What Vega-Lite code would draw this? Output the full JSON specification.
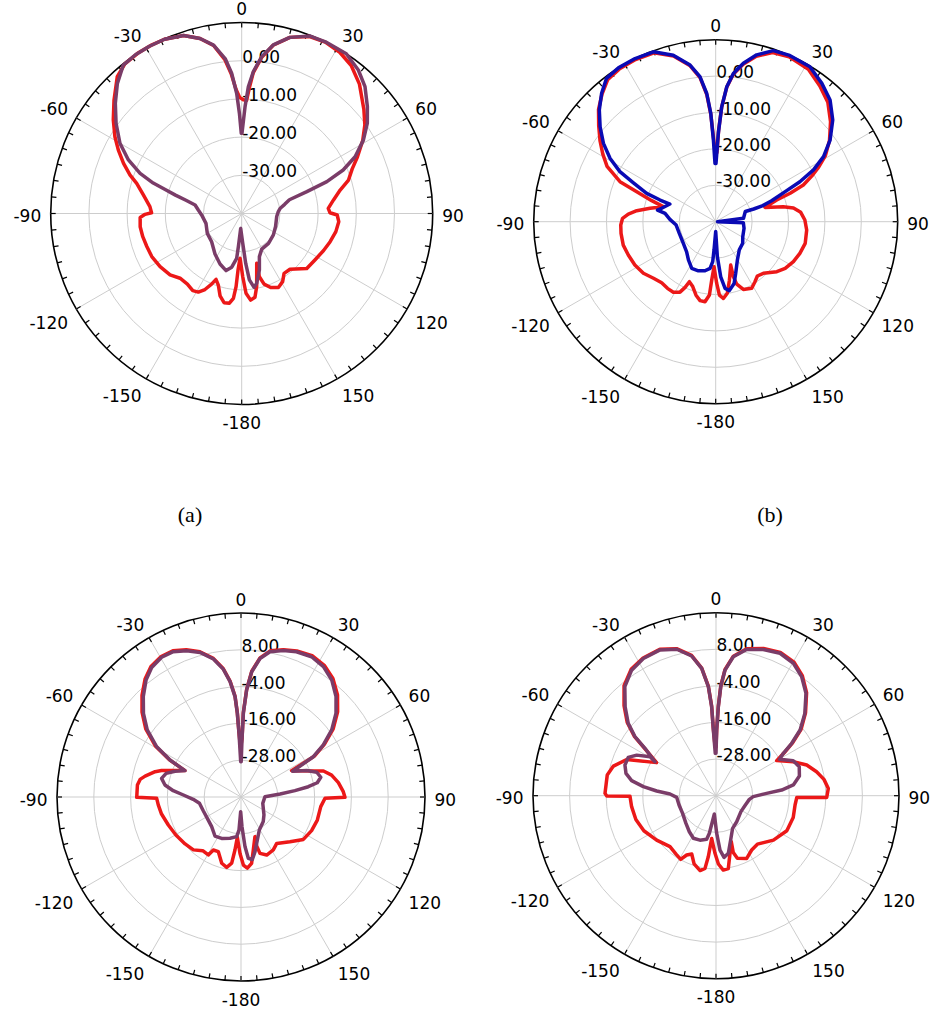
{
  "$schema": "https://vega.github.io/schema/vega-lite/v6.json",
  "padding": 0,
  "background": "white",
  "config": {
    "view": {"stroke": null},
    "text": {"font": "DejaVu Sans", "fontSize": 17, "color": "#000000"},
    "line": {"strokeWidth": 3.5, "strokeJoin": "round", "strokeCap": "round"}
  },
  "datasets": {
    "spokes": [{"deg":0},{"deg":30},{"deg":60},{"deg":90},{"deg":120},{"deg":150},{"deg":180},{"deg":210},{"deg":240},{"deg":270},{"deg":300},{"deg":330}],
    "ticks": [{"deg":0},{"deg":5},{"deg":10},{"deg":15},{"deg":20},{"deg":25},{"deg":30},{"deg":35},{"deg":40},{"deg":45},{"deg":50},{"deg":55},{"deg":60},{"deg":65},{"deg":70},{"deg":75},{"deg":80},{"deg":85},{"deg":90},{"deg":95},{"deg":100},{"deg":105},{"deg":110},{"deg":115},{"deg":120},{"deg":125},{"deg":130},{"deg":135},{"deg":140},{"deg":145},{"deg":150},{"deg":155},{"deg":160},{"deg":165},{"deg":170},{"deg":175},{"deg":180},{"deg":185},{"deg":190},{"deg":195},{"deg":200},{"deg":205},{"deg":210},{"deg":215},{"deg":220},{"deg":225},{"deg":230},{"deg":235},{"deg":240},{"deg":245},{"deg":250},{"deg":255},{"deg":260},{"deg":265},{"deg":270},{"deg":275},{"deg":280},{"deg":285},{"deg":290},{"deg":295},{"deg":300},{"deg":305},{"deg":310},{"deg":315},{"deg":320},{"deg":325},{"deg":330},{"deg":335},{"deg":340},{"deg":345},{"deg":350},{"deg":355}],
    "angleLabels": [{"deg":0,"label":"0"},{"deg":30,"label":"30"},{"deg":60,"label":"60"},{"deg":90,"label":"90"},{"deg":120,"label":"120"},{"deg":150,"label":"150"},{"deg":180,"label":"-180"},{"deg":-150,"label":"-150"},{"deg":-120,"label":"-120"},{"deg":-90,"label":"-90"},{"deg":-60,"label":"-60"},{"deg":-30,"label":"-30"}],
    "patterns": [
      {"panel":"a","trace":"T1","deg":2.5,"dB":-10.3},{"panel":"a","trace":"T1","deg":3.5,"dB":-7.0},{"panel":"a","trace":"T1","deg":4.7,"dB":-3.0},{"panel":"a","trace":"T1","deg":7.3,"dB":1.2},{"panel":"a","trace":"T1","deg":10.6,"dB":4.8},{"panel":"a","trace":"T1","deg":15.3,"dB":7.8},{"panel":"a","trace":"T1","deg":21,"dB":9.6},{"panel":"a","trace":"T1","deg":26,"dB":9.9},{"panel":"a","trace":"T1","deg":31.3,"dB":9.4},{"panel":"a","trace":"T1","deg":36.5,"dB":8.2},{"panel":"a","trace":"T1","deg":42.3,"dB":5.8},{"panel":"a","trace":"T1","deg":49.6,"dB":2.0},{"panel":"a","trace":"T1","deg":54.3,"dB":-0.3},{"panel":"a","trace":"T1","deg":58.9,"dB":-3.0},{"panel":"a","trace":"T1","deg":64,"dB":-6.3},{"panel":"a","trace":"T1","deg":68,"dB":-8.8},{"panel":"a","trace":"T1","deg":72.6,"dB":-10.7},{"panel":"a","trace":"T1","deg":76.6,"dB":-13.5},{"panel":"a","trace":"T1","deg":81.6,"dB":-15.7},{"panel":"a","trace":"T1","deg":86.6,"dB":-17.3},{"panel":"a","trace":"T1","deg":89.5,"dB":-16.9},{"panel":"a","trace":"T1","deg":90.9,"dB":-15.0},{"panel":"a","trace":"T1","deg":94.8,"dB":-14.5},{"panel":"a","trace":"T1","deg":100.9,"dB":-14.9},{"panel":"a","trace":"T1","deg":107.7,"dB":-15.7},{"panel":"a","trace":"T1","deg":114.5,"dB":-16.5},{"panel":"a","trace":"T1","deg":122.4,"dB":-17.3},{"panel":"a","trace":"T1","deg":130.2,"dB":-17.7},{"panel":"a","trace":"T1","deg":139.1,"dB":-20.7},{"panel":"a","trace":"T1","deg":144.7,"dB":-20.8},{"panel":"a","trace":"T1","deg":149,"dB":-19.2},{"panel":"a","trace":"T1","deg":153.6,"dB":-18.4},{"panel":"a","trace":"T1","deg":158.6,"dB":-19.2},{"panel":"a","trace":"T1","deg":162.4,"dB":-20.6},{"panel":"a","trace":"T1","deg":164.4,"dB":-22.8},{"panel":"a","trace":"T1","deg":163.2,"dB":-26.4},{"panel":"a","trace":"T1","deg":168.4,"dB":-20.5},{"panel":"a","trace":"T1","deg":171,"dB":-17.8},{"panel":"a","trace":"T1","deg":174.1,"dB":-17.2},{"panel":"a","trace":"T1","deg":176.9,"dB":-19.1},{"panel":"a","trace":"T1","deg":179.1,"dB":-23.5},{"panel":"a","trace":"T1","deg":-177.9,"dB":-28.3},{"panel":"a","trace":"T1","deg":-176.3,"dB":-25.2},{"panel":"a","trace":"T1","deg":-175.6,"dB":-20.8},{"panel":"a","trace":"T1","deg":-174.4,"dB":-17.7},{"panel":"a","trace":"T1","deg":-172.2,"dB":-16.3},{"panel":"a","trace":"T1","deg":-168.8,"dB":-16.2},{"panel":"a","trace":"T1","deg":-165.3,"dB":-17.7},{"panel":"a","trace":"T1","deg":-161.9,"dB":-20.3},{"panel":"a","trace":"T1","deg":-158.7,"dB":-21.5},{"panel":"a","trace":"T1","deg":-156.9,"dB":-19.9},{"panel":"a","trace":"T1","deg":-154.2,"dB":-17.9},{"panel":"a","trace":"T1","deg":-151.1,"dB":-16.5},{"panel":"a","trace":"T1","deg":-147.6,"dB":-16.1},{"panel":"a","trace":"T1","deg":-142.4,"dB":-16.7},{"panel":"a","trace":"T1","deg":-136.4,"dB":-16.6},{"panel":"a","trace":"T1","deg":-130.6,"dB":-15.3},{"panel":"a","trace":"T1","deg":-123.1,"dB":-14.5},{"panel":"a","trace":"T1","deg":-115.6,"dB":-13.9},{"panel":"a","trace":"T1","deg":-109.2,"dB":-13.7},{"panel":"a","trace":"T1","deg":-103.2,"dB":-13.4},{"panel":"a","trace":"T1","deg":-97.4,"dB":-13.2},{"panel":"a","trace":"T1","deg":-92.2,"dB":-13.4},{"panel":"a","trace":"T1","deg":-90.5,"dB":-14.7},{"panel":"a","trace":"T1","deg":-89.5,"dB":-16.4},{"panel":"a","trace":"T1","deg":-85.7,"dB":-15.9},{"panel":"a","trace":"T1","deg":-79.3,"dB":-13.8},{"panel":"a","trace":"T1","deg":-74,"dB":-11.4},{"panel":"a","trace":"T1","deg":-71,"dB":-9.1},{"panel":"a","trace":"T1","deg":-67,"dB":-6.4},{"panel":"a","trace":"T1","deg":-62.8,"dB":-3.7},{"panel":"a","trace":"T1","deg":-58.8,"dB":-1.2},{"panel":"a","trace":"T1","deg":-53.9,"dB":1.6},{"panel":"a","trace":"T1","deg":-48.4,"dB":4.7},{"panel":"a","trace":"T1","deg":-42.3,"dB":8.4},{"panel":"a","trace":"T1","deg":-38,"dB":9.7},{"panel":"a","trace":"T1","deg":-33,"dB":10},{"panel":"a","trace":"T1","deg":-28,"dB":10},{"panel":"a","trace":"T1","deg":-23.9,"dB":9.9},{"panel":"a","trace":"T1","deg":-18.1,"dB":9.0},{"panel":"a","trace":"T1","deg":-13.4,"dB":7.1},{"panel":"a","trace":"T1","deg":-9.5,"dB":4.6},{"panel":"a","trace":"T1","deg":-6.3,"dB":0.6},{"panel":"a","trace":"T1","deg":-4.3,"dB":-3.3},{"panel":"a","trace":"T1","deg":-2.6,"dB":-7.5},{"panel":"a","trace":"T1","deg":-1.0,"dB":-9.6},{"panel":"a","trace":"T1","deg":0.8,"dB":-10.2},{"panel":"a","trace":"T1","deg":2.5,"dB":-10.3},

      {"panel":"a","trace":"T2","deg":0.2,"dB":-19.0},{"panel":"a","trace":"T2","deg":1.8,"dB":-12.0},{"panel":"a","trace":"T2","deg":3.0,"dB":-6.8},{"panel":"a","trace":"T2","deg":4.7,"dB":-2.7},{"panel":"a","trace":"T2","deg":7.3,"dB":1.4},{"panel":"a","trace":"T2","deg":10.6,"dB":4.9},{"panel":"a","trace":"T2","deg":15.3,"dB":7.8},{"panel":"a","trace":"T2","deg":21.1,"dB":9.8},{"panel":"a","trace":"T2","deg":26,"dB":10},{"panel":"a","trace":"T2","deg":33.2,"dB":10},{"panel":"a","trace":"T2","deg":39.1,"dB":8.4},{"panel":"a","trace":"T2","deg":44.2,"dB":6.3},{"panel":"a","trace":"T2","deg":49.6,"dB":3.2},{"panel":"a","trace":"T2","deg":54.3,"dB":0.5},{"panel":"a","trace":"T2","deg":58.9,"dB":-2.8},{"panel":"a","trace":"T2","deg":63.4,"dB":-6.8},{"panel":"a","trace":"T2","deg":66.8,"dB":-11.1},{"panel":"a","trace":"T2","deg":69.5,"dB":-16.2},{"panel":"a","trace":"T2","deg":71.4,"dB":-22.0},{"panel":"a","trace":"T2","deg":73.9,"dB":-27.0},{"panel":"a","trace":"T2","deg":78,"dB":-28.5},{"panel":"a","trace":"T2","deg":82.2,"dB":-29.8},{"panel":"a","trace":"T2","deg":87,"dB":-30.4},{"panel":"a","trace":"T2","deg":95,"dB":-30.8},{"panel":"a","trace":"T2","deg":111,"dB":-30.5},{"panel":"a","trace":"T2","deg":124,"dB":-30.0},{"panel":"a","trace":"T2","deg":138,"dB":-29.5},{"panel":"a","trace":"T2","deg":150.6,"dB":-29.3},{"panel":"a","trace":"T2","deg":157.7,"dB":-27.8},{"panel":"a","trace":"T2","deg":162.6,"dB":-24.5},{"panel":"a","trace":"T2","deg":167.9,"dB":-21.3},{"panel":"a","trace":"T2","deg":170.5,"dB":-20.4},{"panel":"a","trace":"T2","deg":173.4,"dB":-22.5},{"panel":"a","trace":"T2","deg":175.4,"dB":-26.9},{"panel":"a","trace":"T2","deg":178,"dB":-32.2},{"panel":"a","trace":"T2","deg":-176.1,"dB":-36.1},{"panel":"a","trace":"T2","deg":-174.3,"dB":-31.3},{"panel":"a","trace":"T2","deg":-173.6,"dB":-28.2},{"panel":"a","trace":"T2","deg":-169.5,"dB":-25.7},{"panel":"a","trace":"T2","deg":-164.7,"dB":-24.5},{"panel":"a","trace":"T2","deg":-156.8,"dB":-25.6},{"panel":"a","trace":"T2","deg":-146.6,"dB":-27.3},{"panel":"a","trace":"T2","deg":-133.2,"dB":-29.2},{"panel":"a","trace":"T2","deg":-120,"dB":-29.6},{"panel":"a","trace":"T2","deg":-105.4,"dB":-30.3},{"panel":"a","trace":"T2","deg":-92,"dB":-29.5},{"panel":"a","trace":"T2","deg":-85.4,"dB":-28.6},{"panel":"a","trace":"T2","deg":-79.7,"dB":-27.6},{"panel":"a","trace":"T2","deg":-76.7,"dB":-25.0},{"panel":"a","trace":"T2","deg":-74.5,"dB":-22.0},{"panel":"a","trace":"T2","deg":-72.6,"dB":-19.0},{"panel":"a","trace":"T2","deg":-71,"dB":-15.5},{"panel":"a","trace":"T2","deg":-68.4,"dB":-11.4},{"panel":"a","trace":"T2","deg":-64.7,"dB":-7.2},{"panel":"a","trace":"T2","deg":-60,"dB":-3.2},{"panel":"a","trace":"T2","deg":-54.3,"dB":0.5},{"panel":"a","trace":"T2","deg":-48.9,"dB":3.9},{"panel":"a","trace":"T2","deg":-43.7,"dB":7.1},{"panel":"a","trace":"T2","deg":-38.6,"dB":9.7},{"panel":"a","trace":"T2","deg":-33.8,"dB":10},{"panel":"a","trace":"T2","deg":-28.9,"dB":10},{"panel":"a","trace":"T2","deg":-23.9,"dB":9.9},{"panel":"a","trace":"T2","deg":-18.1,"dB":9.0},{"panel":"a","trace":"T2","deg":-13.4,"dB":7.1},{"panel":"a","trace":"T2","deg":-9.5,"dB":4.7},{"panel":"a","trace":"T2","deg":-6.1,"dB":0.8},{"panel":"a","trace":"T2","deg":-4.1,"dB":-3.2},{"panel":"a","trace":"T2","deg":-2.4,"dB":-8.5},{"panel":"a","trace":"T2","deg":-1.3,"dB":-13.8},{"panel":"a","trace":"T2","deg":-0.3,"dB":-19.0},{"panel":"a","trace":"T2","deg":0.2,"dB":-19.0},

      {"panel":"b","trace":"T1","deg":1.0,"dB":-21},{"panel":"b","trace":"T1","deg":1.8,"dB":-15},{"panel":"b","trace":"T1","deg":3.0,"dB":-8.4},{"panel":"b","trace":"T1","deg":4.7,"dB":-2.9},{"panel":"b","trace":"T1","deg":6.8,"dB":0.8},{"panel":"b","trace":"T1","deg":9.9,"dB":3.9},{"panel":"b","trace":"T1","deg":13.8,"dB":6.8},{"panel":"b","trace":"T1","deg":18.6,"dB":9.0},{"panel":"b","trace":"T1","deg":24,"dB":9.6},{"panel":"b","trace":"T1","deg":31.3,"dB":9.0},{"panel":"b","trace":"T1","deg":37.5,"dB":7.0},{"panel":"b","trace":"T1","deg":43.2,"dB":5.0},{"panel":"b","trace":"T1","deg":49,"dB":1.8},{"panel":"b","trace":"T1","deg":54.5,"dB":-1.6},{"panel":"b","trace":"T1","deg":58.9,"dB":-4.8},{"panel":"b","trace":"T1","deg":62.1,"dB":-8.0},{"panel":"b","trace":"T1","deg":64.6,"dB":-10.8},{"panel":"b","trace":"T1","deg":67.3,"dB":-13.9},{"panel":"b","trace":"T1","deg":69.1,"dB":-18.1},{"panel":"b","trace":"T1","deg":70.4,"dB":-22.2},{"panel":"b","trace":"T1","deg":73.8,"dB":-25.9},{"panel":"b","trace":"T1","deg":77.5,"dB":-21.0},{"panel":"b","trace":"T1","deg":80,"dB":-18.3},{"panel":"b","trace":"T1","deg":83.7,"dB":-16.5},{"panel":"b","trace":"T1","deg":88.9,"dB":-15.5},{"panel":"b","trace":"T1","deg":95.2,"dB":-14.9},{"panel":"b","trace":"T1","deg":103.6,"dB":-14.7},{"panel":"b","trace":"T1","deg":110.6,"dB":-15.3},{"panel":"b","trace":"T1","deg":117.2,"dB":-16.0},{"panel":"b","trace":"T1","deg":123.9,"dB":-17.0},{"panel":"b","trace":"T1","deg":129.3,"dB":-18.3},{"panel":"b","trace":"T1","deg":137.3,"dB":-20.7},{"panel":"b","trace":"T1","deg":142.5,"dB":-21.2},{"panel":"b","trace":"T1","deg":146.8,"dB":-20.3},{"panel":"b","trace":"T1","deg":151.6,"dB":-19.2},{"panel":"b","trace":"T1","deg":157.8,"dB":-19.9},{"panel":"b","trace":"T1","deg":161.4,"dB":-21.9},{"panel":"b","trace":"T1","deg":162.2,"dB":-24.1},{"panel":"b","trace":"T1","deg":160.9,"dB":-27.4},{"panel":"b","trace":"T1","deg":166.8,"dB":-23.5},{"panel":"b","trace":"T1","deg":170.8,"dB":-20.1},{"panel":"b","trace":"T1","deg":174.3,"dB":-18.8},{"panel":"b","trace":"T1","deg":177.1,"dB":-19.8},{"panel":"b","trace":"T1","deg":179.1,"dB":-23.1},{"panel":"b","trace":"T1","deg":-177.9,"dB":-27.6},{"panel":"b","trace":"T1","deg":-176.1,"dB":-23.9},{"panel":"b","trace":"T1","deg":-175.1,"dB":-19.8},{"panel":"b","trace":"T1","deg":-172.4,"dB":-17.8},{"panel":"b","trace":"T1","deg":-168.8,"dB":-17.9},{"panel":"b","trace":"T1","deg":-165,"dB":-19.1},{"panel":"b","trace":"T1","deg":-160.5,"dB":-21.1},{"panel":"b","trace":"T1","deg":-156.3,"dB":-22.0},{"panel":"b","trace":"T1","deg":-155,"dB":-20.1},{"panel":"b","trace":"T1","deg":-153.1,"dB":-18.3},{"panel":"b","trace":"T1","deg":-149,"dB":-17.4},{"panel":"b","trace":"T1","deg":-144.1,"dB":-17.4},{"panel":"b","trace":"T1","deg":-138.5,"dB":-17.6},{"panel":"b","trace":"T1","deg":-132.3,"dB":-16.9},{"panel":"b","trace":"T1","deg":-125.5,"dB":-15.6},{"panel":"b","trace":"T1","deg":-118.2,"dB":-14.8},{"panel":"b","trace":"T1","deg":-110.9,"dB":-14.3},{"panel":"b","trace":"T1","deg":-104.2,"dB":-13.8},{"panel":"b","trace":"T1","deg":-97,"dB":-13.8},{"panel":"b","trace":"T1","deg":-92,"dB":-13.9},{"panel":"b","trace":"T1","deg":-87.9,"dB":-14.4},{"panel":"b","trace":"T1","deg":-85,"dB":-15.9},{"panel":"b","trace":"T1","deg":-82.1,"dB":-18.1},{"panel":"b","trace":"T1","deg":-78.5,"dB":-21.6},{"panel":"b","trace":"T1","deg":-74,"dB":-25.0},{"panel":"b","trace":"T1","deg":-71.8,"dB":-21.5},{"panel":"b","trace":"T1","deg":-69.2,"dB":-16.8},{"panel":"b","trace":"T1","deg":-67.3,"dB":-11.5},{"panel":"b","trace":"T1","deg":-63,"dB":-6.5},{"panel":"b","trace":"T1","deg":-59,"dB":-3.8},{"panel":"b","trace":"T1","deg":-55,"dB":-1.2},{"panel":"b","trace":"T1","deg":-50.6,"dB":1.6},{"panel":"b","trace":"T1","deg":-46.2,"dB":4.6},{"panel":"b","trace":"T1","deg":-41.6,"dB":7.0},{"panel":"b","trace":"T1","deg":-37.3,"dB":9.0},{"panel":"b","trace":"T1","deg":-32.3,"dB":9.6},{"panel":"b","trace":"T1","deg":-26.3,"dB":9.7},{"panel":"b","trace":"T1","deg":-20.1,"dB":9.4},{"panel":"b","trace":"T1","deg":-14.3,"dB":7.0},{"panel":"b","trace":"T1","deg":-9.3,"dB":3.4},{"panel":"b","trace":"T1","deg":-6.2,"dB":-0.2},{"panel":"b","trace":"T1","deg":-4.0,"dB":-5.0},{"panel":"b","trace":"T1","deg":-2.6,"dB":-10.5},{"panel":"b","trace":"T1","deg":-1.6,"dB":-16.5},{"panel":"b","trace":"T1","deg":-0.5,"dB":-21},{"panel":"b","trace":"T1","deg":1.0,"dB":-21},

      {"panel":"b","trace":"T3","deg":0.3,"dB":-24.0},{"panel":"b","trace":"T3","deg":1.7,"dB":-15.7},{"panel":"b","trace":"T3","deg":3.0,"dB":-8.4},{"panel":"b","trace":"T3","deg":4.7,"dB":-2.8},{"panel":"b","trace":"T3","deg":6.8,"dB":1.0},{"panel":"b","trace":"T3","deg":9.9,"dB":4.2},{"panel":"b","trace":"T3","deg":13.8,"dB":7.2},{"panel":"b","trace":"T3","deg":18.6,"dB":9.6},{"panel":"b","trace":"T3","deg":24,"dB":10},{"panel":"b","trace":"T3","deg":31.3,"dB":9.8},{"panel":"b","trace":"T3","deg":37.5,"dB":7.9},{"panel":"b","trace":"T3","deg":43.2,"dB":5.9},{"panel":"b","trace":"T3","deg":49,"dB":2.6},{"panel":"b","trace":"T3","deg":54.5,"dB":-1.4},{"panel":"b","trace":"T3","deg":58.9,"dB":-5.4},{"panel":"b","trace":"T3","deg":62.1,"dB":-9.6},{"panel":"b","trace":"T3","deg":64.6,"dB":-14.4},{"panel":"b","trace":"T3","deg":66.6,"dB":-19.2},{"panel":"b","trace":"T3","deg":69.5,"dB":-23.6},{"panel":"b","trace":"T3","deg":71.2,"dB":-26.5},{"panel":"b","trace":"T3","deg":71.5,"dB":-29},{"panel":"b","trace":"T3","deg":71,"dB":-31.4},{"panel":"b","trace":"T3","deg":83,"dB":-32.3},{"panel":"b","trace":"T3","deg":90,"dB":-39.5},{"panel":"b","trace":"T3","deg":92,"dB":-32.4},{"panel":"b","trace":"T3","deg":103.2,"dB":-32.0},{"panel":"b","trace":"T3","deg":119,"dB":-31.5},{"panel":"b","trace":"T3","deg":128.7,"dB":-30.5},{"panel":"b","trace":"T3","deg":140.1,"dB":-29.9},{"panel":"b","trace":"T3","deg":150.5,"dB":-27.9},{"panel":"b","trace":"T3","deg":158.8,"dB":-24.8},{"panel":"b","trace":"T3","deg":163.4,"dB":-22.3},{"panel":"b","trace":"T3","deg":168.8,"dB":-20.7},{"panel":"b","trace":"T3","deg":172,"dB":-21.5},{"panel":"b","trace":"T3","deg":174.8,"dB":-24.8},{"panel":"b","trace":"T3","deg":177.3,"dB":-30.4},{"panel":"b","trace":"T3","deg":180,"dB":-37.3},{"panel":"b","trace":"T3","deg":-176.6,"dB":-32.2},{"panel":"b","trace":"T3","deg":-175.7,"dB":-29.0},{"panel":"b","trace":"T3","deg":-173.1,"dB":-27.1},{"panel":"b","trace":"T3","deg":-167.7,"dB":-26.2},{"panel":"b","trace":"T3","deg":-160.5,"dB":-25.7},{"panel":"b","trace":"T3","deg":-152.8,"dB":-25.6},{"panel":"b","trace":"T3","deg":-144.5,"dB":-27.1},{"panel":"b","trace":"T3","deg":-136,"dB":-28.5},{"panel":"b","trace":"T3","deg":-123.8,"dB":-29.3},{"panel":"b","trace":"T3","deg":-107.8,"dB":-29.5},{"panel":"b","trace":"T3","deg":-94.8,"dB":-29.1},{"panel":"b","trace":"T3","deg":-87.1,"dB":-27.4},{"panel":"b","trace":"T3","deg":-80.7,"dB":-25.9},{"panel":"b","trace":"T3","deg":-78.7,"dB":-23.7},{"panel":"b","trace":"T3","deg":-76.1,"dB":-24.7},{"panel":"b","trace":"T3","deg":-68.9,"dB":-26.5},{"panel":"b","trace":"T3","deg":-68.7,"dB":-23.6},{"panel":"b","trace":"T3","deg":-67.7,"dB":-19.5},{"panel":"b","trace":"T3","deg":-64.7,"dB":-15.0},{"panel":"b","trace":"T3","deg":-62.4,"dB":-10.3},{"panel":"b","trace":"T3","deg":-59.1,"dB":-6.2},{"panel":"b","trace":"T3","deg":-55.1,"dB":-2.4},{"panel":"b","trace":"T3","deg":-50.6,"dB":1.1},{"panel":"b","trace":"T3","deg":-46.2,"dB":4.3},{"panel":"b","trace":"T3","deg":-41.6,"dB":7.2},{"panel":"b","trace":"T3","deg":-37.3,"dB":9.5},{"panel":"b","trace":"T3","deg":-32.3,"dB":10},{"panel":"b","trace":"T3","deg":-26.3,"dB":10},{"panel":"b","trace":"T3","deg":-20.1,"dB":9.7},{"panel":"b","trace":"T3","deg":-14.3,"dB":7.2},{"panel":"b","trace":"T3","deg":-9.3,"dB":3.6},{"panel":"b","trace":"T3","deg":-6.2,"dB":0.1},{"panel":"b","trace":"T3","deg":-4.0,"dB":-4.7},{"panel":"b","trace":"T3","deg":-2.6,"dB":-10.2},{"panel":"b","trace":"T3","deg":-1.6,"dB":-17.6},{"panel":"b","trace":"T3","deg":-0.7,"dB":-24.0},{"panel":"b","trace":"T3","deg":0.3,"dB":-24.0},

      {"panel":"c","trace":"T1","deg":1,"dB":-21},{"panel":"c","trace":"T1","deg":1.6,"dB":-12.4},{"panel":"c","trace":"T1","deg":3,"dB":-4.9},{"panel":"c","trace":"T1","deg":4.9,"dB":1.2},{"panel":"c","trace":"T1","deg":7.8,"dB":5.8},{"panel":"c","trace":"T1","deg":11.3,"dB":8.6},{"panel":"c","trace":"T1","deg":16.1,"dB":10.0},{"panel":"c","trace":"T1","deg":20.9,"dB":11.0},{"panel":"c","trace":"T1","deg":26.7,"dB":11.6},{"panel":"c","trace":"T1","deg":32.3,"dB":10.8},{"panel":"c","trace":"T1","deg":37.8,"dB":8.9},{"panel":"c","trace":"T1","deg":43.4,"dB":5.8},{"panel":"c","trace":"T1","deg":48.6,"dB":2.0},{"panel":"c","trace":"T1","deg":53.5,"dB":-2.6},{"panel":"c","trace":"T1","deg":57.7,"dB":-7.8},{"panel":"c","trace":"T1","deg":60.9,"dB":-12.6},{"panel":"c","trace":"T1","deg":62.5,"dB":-21.4},{"panel":"c","trace":"T1","deg":72.5,"dB":-11.8},{"panel":"c","trace":"T1","deg":76.4,"dB":-9.6},{"panel":"c","trace":"T1","deg":81.6,"dB":-7.9},{"panel":"c","trace":"T1","deg":87,"dB":-6.6},{"panel":"c","trace":"T1","deg":90.2,"dB":-6.1},{"panel":"c","trace":"T1","deg":90.9,"dB":-12.6},{"panel":"c","trace":"T1","deg":96.9,"dB":-13.8},{"panel":"c","trace":"T1","deg":106.8,"dB":-14.0},{"panel":"c","trace":"T1","deg":115.5,"dB":-14.5},{"panel":"c","trace":"T1","deg":124.2,"dB":-15.4},{"panel":"c","trace":"T1","deg":132.4,"dB":-18.4},{"panel":"c","trace":"T1","deg":142.4,"dB":-20.9},{"panel":"c","trace":"T1","deg":148.6,"dB":-19.8},{"panel":"c","trace":"T1","deg":156.1,"dB":-19.3},{"panel":"c","trace":"T1","deg":161.4,"dB":-20.6},{"panel":"c","trace":"T1","deg":162.3,"dB":-23.2},{"panel":"c","trace":"T1","deg":160.6,"dB":-26.3},{"panel":"c","trace":"T1","deg":166.9,"dB":-22.3},{"panel":"c","trace":"T1","deg":170.9,"dB":-18.1},{"panel":"c","trace":"T1","deg":174.9,"dB":-16.7},{"panel":"c","trace":"T1","deg":178,"dB":-17.8},{"panel":"c","trace":"T1","deg":-179,"dB":-21.6},{"panel":"c","trace":"T1","deg":-174.8,"dB":-26.8},{"panel":"c","trace":"T1","deg":-173.5,"dB":-22.6},{"panel":"c","trace":"T1","deg":-172,"dB":-18.2},{"panel":"c","trace":"T1","deg":-168.5,"dB":-16.6},{"panel":"c","trace":"T1","deg":-163.8,"dB":-17.5},{"panel":"c","trace":"T1","deg":-157.5,"dB":-20.7},{"panel":"c","trace":"T1","deg":-152.4,"dB":-20.5},{"panel":"c","trace":"T1","deg":-150.6,"dB":-18.3},{"panel":"c","trace":"T1","deg":-144.5,"dB":-18.5},{"panel":"c","trace":"T1","deg":-138,"dB":-16.8},{"panel":"c","trace":"T1","deg":-130,"dB":-16.2},{"panel":"c","trace":"T1","deg":-120.3,"dB":-15.4},{"panel":"c","trace":"T1","deg":-111.1,"dB":-14.6},{"panel":"c","trace":"T1","deg":-102.1,"dB":-13.5},{"panel":"c","trace":"T1","deg":-95.5,"dB":-12.9},{"panel":"c","trace":"T1","deg":-90.9,"dB":-12.5},{"panel":"c","trace":"T1","deg":-90.2,"dB":-6.0},{"panel":"c","trace":"T1","deg":-83.4,"dB":-6.0},{"panel":"c","trace":"T1","deg":-80.1,"dB":-6.6},{"panel":"c","trace":"T1","deg":-77.7,"dB":-8.0},{"panel":"c","trace":"T1","deg":-73.6,"dB":-10.8},{"panel":"c","trace":"T1","deg":-71.6,"dB":-12.7},{"panel":"c","trace":"T1","deg":-64.8,"dB":-19.8},{"panel":"c","trace":"T1","deg":-62.5,"dB":-13.6},{"panel":"c","trace":"T1","deg":-59.2,"dB":-7.5},{"panel":"c","trace":"T1","deg":-54.4,"dB":-1.8},{"panel":"c","trace":"T1","deg":-49.4,"dB":2.5},{"panel":"c","trace":"T1","deg":-44.2,"dB":6.3},{"panel":"c","trace":"T1","deg":-39.1,"dB":9.6},{"panel":"c","trace":"T1","deg":-34.6,"dB":11.7},{"panel":"c","trace":"T1","deg":-29.6,"dB":12.7},{"panel":"c","trace":"T1","deg":-25,"dB":12.6},{"panel":"c","trace":"T1","deg":-20.4,"dB":11.2},{"panel":"c","trace":"T1","deg":-15.8,"dB":9.2},{"panel":"c","trace":"T1","deg":-11.3,"dB":6.1},{"panel":"c","trace":"T1","deg":-7.9,"dB":2.3},{"panel":"c","trace":"T1","deg":-5.4,"dB":-2.0},{"panel":"c","trace":"T1","deg":-3.4,"dB":-7.0},{"panel":"c","trace":"T1","deg":-2.5,"dB":-12.5},{"panel":"c","trace":"T1","deg":-1.8,"dB":-19},{"panel":"c","trace":"T1","deg":-0.5,"dB":-24},{"panel":"c","trace":"T1","deg":1,"dB":-21},

      {"panel":"c","trace":"T2","deg":0.3,"dB":-28.5},{"panel":"c","trace":"T2","deg":1,"dB":-21.4},{"panel":"c","trace":"T2","deg":1.6,"dB":-12.7},{"panel":"c","trace":"T2","deg":3,"dB":-5.1},{"panel":"c","trace":"T2","deg":4.9,"dB":1.0},{"panel":"c","trace":"T2","deg":7.8,"dB":5.6},{"panel":"c","trace":"T2","deg":11.3,"dB":8.3},{"panel":"c","trace":"T2","deg":16.1,"dB":9.7},{"panel":"c","trace":"T2","deg":20.9,"dB":10.7},{"panel":"c","trace":"T2","deg":26.7,"dB":11.2},{"panel":"c","trace":"T2","deg":32.3,"dB":10.3},{"panel":"c","trace":"T2","deg":37.8,"dB":8.3},{"panel":"c","trace":"T2","deg":43.4,"dB":5.1},{"panel":"c","trace":"T2","deg":48.6,"dB":1.3},{"panel":"c","trace":"T2","deg":53.5,"dB":-3.2},{"panel":"c","trace":"T2","deg":57.7,"dB":-8.3},{"panel":"c","trace":"T2","deg":60.9,"dB":-13.0},{"panel":"c","trace":"T2","deg":63.5,"dB":-21.2},{"panel":"c","trace":"T2","deg":68.1,"dB":-16.9},{"panel":"c","trace":"T2","deg":71.9,"dB":-14.0},{"panel":"c","trace":"T2","deg":76.1,"dB":-13.2},{"panel":"c","trace":"T2","deg":79.4,"dB":-14.7},{"panel":"c","trace":"T2","deg":81.3,"dB":-17.8},{"panel":"c","trace":"T2","deg":83.3,"dB":-22.3},{"panel":"c","trace":"T2","deg":85.6,"dB":-27.2},{"panel":"c","trace":"T2","deg":89.2,"dB":-32.2},{"panel":"c","trace":"T2","deg":106.3,"dB":-32.6},{"panel":"c","trace":"T2","deg":128,"dB":-30.5},{"panel":"c","trace":"T2","deg":137.8,"dB":-29.2},{"panel":"c","trace":"T2","deg":150.9,"dB":-27.7},{"panel":"c","trace":"T2","deg":159.2,"dB":-25.0},{"panel":"c","trace":"T2","deg":165.6,"dB":-21.6},{"panel":"c","trace":"T2","deg":169.7,"dB":-19.3},{"panel":"c","trace":"T2","deg":173.2,"dB":-19.9},{"panel":"c","trace":"T2","deg":175.4,"dB":-23.8},{"panel":"c","trace":"T2","deg":178.1,"dB":-30.3},{"panel":"c","trace":"T2","deg":-178.7,"dB":-35.2},{"panel":"c","trace":"T2","deg":-176.5,"dB":-29.2},{"panel":"c","trace":"T2","deg":-173.8,"dB":-27.0},{"panel":"c","trace":"T2","deg":-165.1,"dB":-26.1},{"panel":"c","trace":"T2","deg":-154.9,"dB":-25.1},{"panel":"c","trace":"T2","deg":-146.3,"dB":-24.7},{"panel":"c","trace":"T2","deg":-135.3,"dB":-26.4},{"panel":"c","trace":"T2","deg":-122.4,"dB":-27.0},{"panel":"c","trace":"T2","deg":-110,"dB":-26.9},{"panel":"c","trace":"T2","deg":-98.6,"dB":-26.3},{"panel":"c","trace":"T2","deg":-92.8,"dB":-24.4},{"panel":"c","trace":"T2","deg":-88,"dB":-21.2},{"panel":"c","trace":"T2","deg":-84.7,"dB":-17.8},{"panel":"c","trace":"T2","deg":-81,"dB":-14.9},{"panel":"c","trace":"T2","deg":-76.8,"dB":-13.4},{"panel":"c","trace":"T2","deg":-72.5,"dB":-14.4},{"panel":"c","trace":"T2","deg":-68.7,"dB":-16.9},{"panel":"c","trace":"T2","deg":-64.8,"dB":-19.8},{"panel":"c","trace":"T2","deg":-62.5,"dB":-13.9},{"panel":"c","trace":"T2","deg":-59.2,"dB":-8.0},{"panel":"c","trace":"T2","deg":-54.4,"dB":-2.4},{"panel":"c","trace":"T2","deg":-49.4,"dB":1.9},{"panel":"c","trace":"T2","deg":-44.2,"dB":5.7},{"panel":"c","trace":"T2","deg":-39.1,"dB":9.1},{"panel":"c","trace":"T2","deg":-34.6,"dB":11.3},{"panel":"c","trace":"T2","deg":-29.6,"dB":12.4},{"panel":"c","trace":"T2","deg":-25,"dB":12.3},{"panel":"c","trace":"T2","deg":-20.4,"dB":10.9},{"panel":"c","trace":"T2","deg":-15.8,"dB":9.0},{"panel":"c","trace":"T2","deg":-11.3,"dB":5.9},{"panel":"c","trace":"T2","deg":-7.9,"dB":2.1},{"panel":"c","trace":"T2","deg":-5.4,"dB":-2.2},{"panel":"c","trace":"T2","deg":-3.4,"dB":-7.2},{"panel":"c","trace":"T2","deg":-2.5,"dB":-12.7},{"panel":"c","trace":"T2","deg":-1.8,"dB":-19.2},{"panel":"c","trace":"T2","deg":-0.5,"dB":-28.5},{"panel":"c","trace":"T2","deg":0.3,"dB":-28.5},

      {"panel":"d","trace":"T1","deg":0,"dB":-24},{"panel":"d","trace":"T1","deg":0.6,"dB":-18.3},{"panel":"d","trace":"T1","deg":1.5,"dB":-10.6},{"panel":"d","trace":"T1","deg":2.5,"dB":-4.0},{"panel":"d","trace":"T1","deg":4.1,"dB":1.5},{"panel":"d","trace":"T1","deg":7.1,"dB":6.1},{"panel":"d","trace":"T1","deg":11.8,"dB":9.2},{"panel":"d","trace":"T1","deg":17.9,"dB":10.7},{"panel":"d","trace":"T1","deg":24.2,"dB":11.5},{"panel":"d","trace":"T1","deg":30.3,"dB":10.7},{"panel":"d","trace":"T1","deg":35.7,"dB":8.5},{"panel":"d","trace":"T1","deg":41.3,"dB":5.0},{"panel":"d","trace":"T1","deg":47.2,"dB":0.0},{"panel":"d","trace":"T1","deg":52,"dB":-4.6},{"panel":"d","trace":"T1","deg":55.3,"dB":-9.4},{"panel":"d","trace":"T1","deg":57.8,"dB":-13.6},{"panel":"d","trace":"T1","deg":60,"dB":-17.0},{"panel":"d","trace":"T1","deg":66.3,"dB":-12.3},{"panel":"d","trace":"T1","deg":71.3,"dB":-8.6},{"panel":"d","trace":"T1","deg":76.6,"dB":-6.1},{"panel":"d","trace":"T1","deg":81.4,"dB":-4.2},{"panel":"d","trace":"T1","deg":86.3,"dB":-3.1},{"panel":"d","trace":"T1","deg":90.9,"dB":-3.7},{"panel":"d","trace":"T1","deg":91.2,"dB":-13.5},{"panel":"d","trace":"T1","deg":96.7,"dB":-13.9},{"panel":"d","trace":"T1","deg":105.7,"dB":-13.7},{"panel":"d","trace":"T1","deg":116.3,"dB":-14.1},{"panel":"d","trace":"T1","deg":127.7,"dB":-16.2},{"panel":"d","trace":"T1","deg":139.5,"dB":-19.1},{"panel":"d","trace":"T1","deg":146.7,"dB":-18.7},{"panel":"d","trace":"T1","deg":153.9,"dB":-17.1},{"panel":"d","trace":"T1","deg":161.2,"dB":-18.3},{"panel":"d","trace":"T1","deg":163.1,"dB":-20.5},{"panel":"d","trace":"T1","deg":161.6,"dB":-24.1},{"panel":"d","trace":"T1","deg":166.4,"dB":-20.5},{"panel":"d","trace":"T1","deg":170.4,"dB":-15.8},{"panel":"d","trace":"T1","deg":174.4,"dB":-15.5},{"panel":"d","trace":"T1","deg":178,"dB":-17.6},{"panel":"d","trace":"T1","deg":-179,"dB":-21.1},{"panel":"d","trace":"T1","deg":-174.2,"dB":-25.9},{"panel":"d","trace":"T1","deg":-172.8,"dB":-19.8},{"panel":"d","trace":"T1","deg":-171.4,"dB":-15.9},{"panel":"d","trace":"T1","deg":-168,"dB":-14.9},{"panel":"d","trace":"T1","deg":-162.2,"dB":-16.5},{"panel":"d","trace":"T1","deg":-157.4,"dB":-19.3},{"panel":"d","trace":"T1","deg":-153.7,"dB":-18.3},{"panel":"d","trace":"T1","deg":-151,"dB":-16.1},{"panel":"d","trace":"T1","deg":-145.6,"dB":-16.8},{"panel":"d","trace":"T1","deg":-137.9,"dB":-17.5},{"panel":"d","trace":"T1","deg":-126.8,"dB":-15.7},{"panel":"d","trace":"T1","deg":-115.9,"dB":-13.7},{"panel":"d","trace":"T1","deg":-106.5,"dB":-12.6},{"panel":"d","trace":"T1","deg":-97.4,"dB":-12.1},{"panel":"d","trace":"T1","deg":-90.3,"dB":-11.8},{"panel":"d","trace":"T1","deg":-90.2,"dB":-4.2},{"panel":"d","trace":"T1","deg":-88.8,"dB":-3.6},{"panel":"d","trace":"T1","deg":-79.2,"dB":-3.7},{"panel":"d","trace":"T1","deg":-73.9,"dB":-5.0},{"panel":"d","trace":"T1","deg":-67.9,"dB":-8.4},{"panel":"d","trace":"T1","deg":-60.9,"dB":-17.7},{"panel":"d","trace":"T1","deg":-56.3,"dB":-11.7},{"panel":"d","trace":"T1","deg":-53.9,"dB":-6.8},{"panel":"d","trace":"T1","deg":-50.5,"dB":-2.3},{"panel":"d","trace":"T1","deg":-45.6,"dB":2.2},{"panel":"d","trace":"T1","deg":-39.9,"dB":7.0},{"panel":"d","trace":"T1","deg":-33.9,"dB":9.9},{"panel":"d","trace":"T1","deg":-27.9,"dB":11.1},{"panel":"d","trace":"T1","deg":-21,"dB":11.4},{"panel":"d","trace":"T1","deg":-15,"dB":9.9},{"panel":"d","trace":"T1","deg":-9.9,"dB":6.7},{"panel":"d","trace":"T1","deg":-6.4,"dB":2.1},{"panel":"d","trace":"T1","deg":-4,"dB":-4.0},{"panel":"d","trace":"T1","deg":-2.8,"dB":-10.5},{"panel":"d","trace":"T1","deg":-2.3,"dB":-18},{"panel":"d","trace":"T1","deg":-1,"dB":-24},{"panel":"d","trace":"T1","deg":0,"dB":-24},

      {"panel":"d","trace":"T2","deg":0,"dB":-26.1},{"panel":"d","trace":"T2","deg":0.6,"dB":-18.5},{"panel":"d","trace":"T2","deg":1.5,"dB":-10.8},{"panel":"d","trace":"T2","deg":2.5,"dB":-4.2},{"panel":"d","trace":"T2","deg":4.1,"dB":1.3},{"panel":"d","trace":"T2","deg":7.1,"dB":5.9},{"panel":"d","trace":"T2","deg":11.8,"dB":9.0},{"panel":"d","trace":"T2","deg":17.9,"dB":10.4},{"panel":"d","trace":"T2","deg":24.2,"dB":11.2},{"panel":"d","trace":"T2","deg":30.3,"dB":10.3},{"panel":"d","trace":"T2","deg":35.7,"dB":8.1},{"panel":"d","trace":"T2","deg":41.3,"dB":4.7},{"panel":"d","trace":"T2","deg":47.2,"dB":-0.3},{"panel":"d","trace":"T2","deg":52,"dB":-5.0},{"panel":"d","trace":"T2","deg":55.3,"dB":-9.8},{"panel":"d","trace":"T2","deg":57.8,"dB":-13.9},{"panel":"d","trace":"T2","deg":60.2,"dB":-16.0},{"panel":"d","trace":"T2","deg":65.6,"dB":-12.2},{"panel":"d","trace":"T2","deg":70.8,"dB":-11.1},{"panel":"d","trace":"T2","deg":76.7,"dB":-11.9},{"panel":"d","trace":"T2","deg":82.1,"dB":-14.4},{"panel":"d","trace":"T2","deg":85.1,"dB":-18.4},{"panel":"d","trace":"T2","deg":87.4,"dB":-23.4},{"panel":"d","trace":"T2","deg":91.5,"dB":-27.8},{"panel":"d","trace":"T2","deg":96.3,"dB":-29.0},{"panel":"d","trace":"T2","deg":107.6,"dB":-29.9},{"panel":"d","trace":"T2","deg":122.6,"dB":-30.3},{"panel":"d","trace":"T2","deg":141.5,"dB":-29.1},{"panel":"d","trace":"T2","deg":153,"dB":-28.0},{"panel":"d","trace":"T2","deg":161.7,"dB":-24.7},{"panel":"d","trace":"T2","deg":167.9,"dB":-20.7},{"panel":"d","trace":"T2","deg":172.6,"dB":-19.6},{"panel":"d","trace":"T2","deg":175.8,"dB":-22.1},{"panel":"d","trace":"T2","deg":179,"dB":-27.7},{"panel":"d","trace":"T2","deg":-174.8,"dB":-34.0},{"panel":"d","trace":"T2","deg":-170,"dB":-27.5},{"panel":"d","trace":"T2","deg":-167.9,"dB":-25.4},{"panel":"d","trace":"T2","deg":-160.2,"dB":-24.5},{"panel":"d","trace":"T2","deg":-152,"dB":-24.2},{"panel":"d","trace":"T2","deg":-143.5,"dB":-25.3},{"panel":"d","trace":"T2","deg":-132.7,"dB":-26.6},{"panel":"d","trace":"T2","deg":-117.9,"dB":-27.6},{"panel":"d","trace":"T2","deg":-104.2,"dB":-27.5},{"panel":"d","trace":"T2","deg":-92.4,"dB":-27.1},{"panel":"d","trace":"T2","deg":-87.9,"dB":-24.9},{"panel":"d","trace":"T2","deg":-85.5,"dB":-20.5},{"panel":"d","trace":"T2","deg":-82.9,"dB":-16.0},{"panel":"d","trace":"T2","deg":-79.9,"dB":-11.9},{"panel":"d","trace":"T2","deg":-76.1,"dB":-9.6},{"panel":"d","trace":"T2","deg":-71.4,"dB":-8.5},{"panel":"d","trace":"T2","deg":-66.4,"dB":-8.6},{"panel":"d","trace":"T2","deg":-62.9,"dB":-10.8},{"panel":"d","trace":"T2","deg":-59.4,"dB":-14.9},{"panel":"d","trace":"T2","deg":-60.9,"dB":-17.1},{"panel":"d","trace":"T2","deg":-56.3,"dB":-12.0},{"panel":"d","trace":"T2","deg":-53.9,"dB":-7.1},{"panel":"d","trace":"T2","deg":-50.5,"dB":-2.7},{"panel":"d","trace":"T2","deg":-45.6,"dB":1.7},{"panel":"d","trace":"T2","deg":-39.9,"dB":6.6},{"panel":"d","trace":"T2","deg":-33.9,"dB":9.6},{"panel":"d","trace":"T2","deg":-27.9,"dB":10.9},{"panel":"d","trace":"T2","deg":-21,"dB":11.2},{"panel":"d","trace":"T2","deg":-15,"dB":9.7},{"panel":"d","trace":"T2","deg":-9.9,"dB":6.5},{"panel":"d","trace":"T2","deg":-6.4,"dB":2.0},{"panel":"d","trace":"T2","deg":-4,"dB":-4.2},{"panel":"d","trace":"T2","deg":-2.8,"dB":-10.8},{"panel":"d","trace":"T2","deg":-2.3,"dB":-18.4},{"panel":"d","trace":"T2","deg":-1,"dB":-26.1},{"panel":"d","trace":"T2","deg":0,"dB":-26.1}
    ]
  },
  "resolve": {"scale": {"size": "independent", "stroke": "independent", "strokeWidth": "independent"}},
  "concat": [
    {
      "width": 470, "height": 500,
      "title": {"text": "(a)", "orient": "bottom", "anchor": "middle", "dx": -45, "offset": 5, "font": "Liberation Serif", "fontSize": 22, "fontWeight": "normal", "color": "#000000"},
      "encoding": {
        "x": {"field": "px", "type": "quantitative", "scale": {"domain": [-241.7, 228.3], "nice": false, "zero": false}, "axis": null},
        "y": {"field": "py", "type": "quantitative", "scale": {"domain": [-286.5, 213.5], "nice": false, "zero": false}, "axis": null}
      },
      "layer": [
        {"data": {"values": [{"level": -30, "edge": "grid"}, {"level": -20, "edge": "grid"}, {"level": -10, "edge": "grid"}, {"level": 0, "edge": "grid"}, {"level": 10, "edge": "rim"}]},
         "transform": [{"calculate": "0", "as": "px"}, {"calculate": "0", "as": "py"}, {"calculate": "datum.level + 40", "as": "span"}],
         "mark": {"type": "point", "shape": "circle", "filled": false},
         "encoding": {
           "size": {"field": "span", "type": "quantitative", "scale": {"type": "pow", "exponent": 2, "domain": [0, 50], "range": [0, 145924]}, "legend": null},
           "stroke": {"field": "edge", "type": "nominal", "scale": {"domain": ["grid", "rim"], "range": ["#cdcdcd", "#000000"]}, "legend": null},
           "strokeWidth": {"field": "edge", "type": "nominal", "scale": {"domain": ["grid", "rim"], "range": [1, 1.6]}, "legend": null},
           "opacity": {"value": 1}}},
        {"data": {"name": "spokes"},
         "transform": [{"calculate": "0", "as": "px"}, {"calculate": "0", "as": "py"}, {"calculate": "191*sin(datum.deg*PI/180)", "as": "px2"}, {"calculate": "191*cos(datum.deg*PI/180)", "as": "py2"}],
         "mark": {"type": "rule", "stroke": "#cdcdcd", "strokeWidth": 1},
         "encoding": {"x2": {"field": "px2"}, "y2": {"field": "py2"}}},
        {"data": {"name": "ticks"},
         "transform": [{"calculate": "191*sin(datum.deg*PI/180)", "as": "px"}, {"calculate": "191*cos(datum.deg*PI/180)", "as": "py"}, {"calculate": "186*sin(datum.deg*PI/180)", "as": "px2"}, {"calculate": "186*cos(datum.deg*PI/180)", "as": "py2"}],
         "mark": {"type": "rule", "stroke": "#000000", "strokeWidth": 1.2},
         "encoding": {"x2": {"field": "px2"}, "y2": {"field": "py2"}}},
        {"data": {"values": [{"level": 0, "label": "0.00"}, {"level": -10, "label": "-10.00"}, {"level": -20, "label": "-20.00"}, {"level": -30, "label": "-30.00"}]},
         "transform": [{"calculate": "0.5", "as": "px"}, {"calculate": "191*(datum.level+40)/50 + 3", "as": "py"}],
         "mark": {"type": "text", "align": "left", "baseline": "middle"},
         "encoding": {"text": {"field": "label"}}},
        {"data": {"name": "angleLabels"},
         "transform": [
           {"calculate": "sin(datum.deg*PI/180)", "as": "s"}, {"calculate": "cos(datum.deg*PI/180)", "as": "c"},
           {"calculate": "length(datum.label)*10.81 - (indexof(datum.label,'-') >= 0 ? 4.67 : 0)", "as": "w"},
           {"calculate": "200.5*datum.s + (datum.s > 0.01 ? 1 : datum.s < -0.01 ? -1 : 0)*datum.w/2", "as": "px"},
           {"calculate": "200.5*datum.c + (datum.c > 0.01 ? 1 : datum.c < -0.01 ? -1 : 0)*6.5 - 3.5", "as": "py"}],
         "mark": {"type": "text", "align": "center", "baseline": "middle", "clip": true},
         "encoding": {"text": {"field": "label"}}},
        {"data": {"name": "patterns"},
         "transform": [{"filter": "datum.panel == 'a' && datum.trace == 'T1'"}, {"calculate": "191*(datum.dB+40)/50", "as": "r"}, {"calculate": "datum.r*sin(datum.deg*PI/180)", "as": "px"}, {"calculate": "datum.r*cos(datum.deg*PI/180)", "as": "py"}],
         "mark": {"type": "line", "color": "#ec1818"},
         "encoding": {"order": {"value": null}}},
        {"data": {"name": "patterns"},
         "transform": [{"filter": "datum.panel == 'a' && datum.trace == 'T2'"}, {"calculate": "191*(datum.dB+40)/50", "as": "r"}, {"calculate": "datum.r*sin(datum.deg*PI/180)", "as": "px"}, {"calculate": "datum.r*cos(datum.deg*PI/180)", "as": "py"}],
         "mark": {"type": "line", "color": "#7a3c68"},
         "encoding": {"order": {"value": null}}}
      ]
    },
    {
      "width": 460, "height": 500,
      "title": {"text": "(b)", "orient": "bottom", "anchor": "middle", "dx": 70, "offset": 5, "font": "Liberation Serif", "fontSize": 22, "fontWeight": "normal", "color": "#000000"},
      "encoding": {
        "x": {"field": "px", "type": "quantitative", "scale": {"domain": [-245.7, 214.3], "nice": false, "zero": false}, "axis": null},
        "y": {"field": "py", "type": "quantitative", "scale": {"domain": [-278.3, 221.7], "nice": false, "zero": false}, "axis": null}
      },
      "layer": [
        {"data": {"values": [{"level": -30, "edge": "grid"}, {"level": -20, "edge": "grid"}, {"level": -10, "edge": "grid"}, {"level": 0, "edge": "grid"}, {"level": 10, "edge": "rim"}]},
         "transform": [{"calculate": "0", "as": "px"}, {"calculate": "0", "as": "py"}, {"calculate": "datum.level + 40", "as": "span"}],
         "mark": {"type": "point", "shape": "circle", "filled": false},
         "encoding": {
           "size": {"field": "span", "type": "quantitative", "scale": {"type": "pow", "exponent": 2, "domain": [0, 50], "range": [0, 132496]}, "legend": null},
           "stroke": {"field": "edge", "type": "nominal", "scale": {"domain": ["grid", "rim"], "range": ["#cdcdcd", "#000000"]}, "legend": null},
           "strokeWidth": {"field": "edge", "type": "nominal", "scale": {"domain": ["grid", "rim"], "range": [1, 1.6]}, "legend": null},
           "opacity": {"value": 1}}},
        {"data": {"name": "spokes"},
         "transform": [{"calculate": "0", "as": "px"}, {"calculate": "0", "as": "py"}, {"calculate": "182*sin(datum.deg*PI/180)", "as": "px2"}, {"calculate": "182*cos(datum.deg*PI/180)", "as": "py2"}],
         "mark": {"type": "rule", "stroke": "#cdcdcd", "strokeWidth": 1},
         "encoding": {"x2": {"field": "px2"}, "y2": {"field": "py2"}}},
        {"data": {"name": "ticks"},
         "transform": [{"calculate": "182*sin(datum.deg*PI/180)", "as": "px"}, {"calculate": "182*cos(datum.deg*PI/180)", "as": "py"}, {"calculate": "177*sin(datum.deg*PI/180)", "as": "px2"}, {"calculate": "177*cos(datum.deg*PI/180)", "as": "py2"}],
         "mark": {"type": "rule", "stroke": "#000000", "strokeWidth": 1.2},
         "encoding": {"x2": {"field": "px2"}, "y2": {"field": "py2"}}},
        {"data": {"values": [{"level": 0, "label": "0.00"}, {"level": -10, "label": "-10.00"}, {"level": -20, "label": "-20.00"}, {"level": -30, "label": "-30.00"}]},
         "transform": [{"calculate": "0.5", "as": "px"}, {"calculate": "182*(datum.level+40)/50 + 3", "as": "py"}],
         "mark": {"type": "text", "align": "left", "baseline": "middle"},
         "encoding": {"text": {"field": "label"}}},
        {"data": {"name": "angleLabels"},
         "transform": [
           {"calculate": "sin(datum.deg*PI/180)", "as": "s"}, {"calculate": "cos(datum.deg*PI/180)", "as": "c"},
           {"calculate": "length(datum.label)*10.81 - (indexof(datum.label,'-') >= 0 ? 4.67 : 0)", "as": "w"},
           {"calculate": "191.5*datum.s + (datum.s > 0.01 ? 1 : datum.s < -0.01 ? -1 : 0)*datum.w/2", "as": "px"},
           {"calculate": "191.5*datum.c + (datum.c > 0.01 ? 1 : datum.c < -0.01 ? -1 : 0)*6.5 - 3.5", "as": "py"}],
         "mark": {"type": "text", "align": "center", "baseline": "middle", "clip": true},
         "encoding": {"text": {"field": "label"}}},
        {"data": {"name": "patterns"},
         "transform": [{"filter": "datum.panel == 'b' && datum.trace == 'T1'"}, {"calculate": "182*(datum.dB+40)/50", "as": "r"}, {"calculate": "datum.r*sin(datum.deg*PI/180)", "as": "px"}, {"calculate": "datum.r*cos(datum.deg*PI/180)", "as": "py"}],
         "mark": {"type": "line", "color": "#ec1818"},
         "encoding": {"order": {"value": null}}},
        {"data": {"name": "patterns"},
         "transform": [{"filter": "datum.panel == 'b' && datum.trace == 'T3'"}, {"calculate": "182*(datum.dB+40)/50", "as": "r"}, {"calculate": "datum.r*sin(datum.deg*PI/180)", "as": "px"}, {"calculate": "datum.r*cos(datum.deg*PI/180)", "as": "py"}],
         "mark": {"type": "line", "color": "#0a0ab4"},
         "encoding": {"order": {"value": null}}}
      ]
    },
    {
      "width": 470, "height": 433,
      "encoding": {
        "x": {"field": "px", "type": "quantitative", "scale": {"domain": [-241, 229], "nice": false, "zero": false}, "axis": null},
        "y": {"field": "py", "type": "quantitative", "scale": {"domain": [-216, 217], "nice": false, "zero": false}, "axis": null}
      },
      "layer": [
        {"data": {"values": [{"level": -28, "edge": "grid"}, {"level": -16, "edge": "grid"}, {"level": -4, "edge": "grid"}, {"level": 8, "edge": "grid"}, {"level": 20, "edge": "rim"}]},
         "transform": [{"calculate": "0", "as": "px"}, {"calculate": "0", "as": "py"}, {"calculate": "datum.level + 40", "as": "span"}],
         "mark": {"type": "point", "shape": "circle", "filled": false},
         "encoding": {
           "size": {"field": "span", "type": "quantitative", "scale": {"type": "pow", "exponent": 2, "domain": [0, 60], "range": [0, 135424]}, "legend": null},
           "stroke": {"field": "edge", "type": "nominal", "scale": {"domain": ["grid", "rim"], "range": ["#cdcdcd", "#000000"]}, "legend": null},
           "strokeWidth": {"field": "edge", "type": "nominal", "scale": {"domain": ["grid", "rim"], "range": [1, 1.6]}, "legend": null},
           "opacity": {"value": 1}}},
        {"data": {"name": "spokes"},
         "transform": [{"calculate": "0", "as": "px"}, {"calculate": "0", "as": "py"}, {"calculate": "184*sin(datum.deg*PI/180)", "as": "px2"}, {"calculate": "184*cos(datum.deg*PI/180)", "as": "py2"}],
         "mark": {"type": "rule", "stroke": "#cdcdcd", "strokeWidth": 1},
         "encoding": {"x2": {"field": "px2"}, "y2": {"field": "py2"}}},
        {"data": {"name": "ticks"},
         "transform": [{"calculate": "184*sin(datum.deg*PI/180)", "as": "px"}, {"calculate": "184*cos(datum.deg*PI/180)", "as": "py"}, {"calculate": "179*sin(datum.deg*PI/180)", "as": "px2"}, {"calculate": "179*cos(datum.deg*PI/180)", "as": "py2"}],
         "mark": {"type": "rule", "stroke": "#000000", "strokeWidth": 1.2},
         "encoding": {"x2": {"field": "px2"}, "y2": {"field": "py2"}}},
        {"data": {"values": [{"level": 8, "label": "8.00"}, {"level": -4, "label": "-4.00"}, {"level": -16, "label": "-16.00"}, {"level": -28, "label": "-28.00"}]},
         "transform": [{"calculate": "0.5", "as": "px"}, {"calculate": "184*(datum.level+40)/60 + 3", "as": "py"}],
         "mark": {"type": "text", "align": "left", "baseline": "middle"},
         "encoding": {"text": {"field": "label"}}},
        {"data": {"name": "angleLabels"},
         "transform": [
           {"calculate": "sin(datum.deg*PI/180)", "as": "s"}, {"calculate": "cos(datum.deg*PI/180)", "as": "c"},
           {"calculate": "length(datum.label)*10.81 - (indexof(datum.label,'-') >= 0 ? 4.67 : 0)", "as": "w"},
           {"calculate": "193.5*datum.s + (datum.s > 0.01 ? 1 : datum.s < -0.01 ? -1 : 0)*datum.w/2", "as": "px"},
           {"calculate": "193.5*datum.c + (datum.c > 0.01 ? 1 : datum.c < -0.01 ? -1 : 0)*6.5 - 3.5", "as": "py"}],
         "mark": {"type": "text", "align": "center", "baseline": "middle", "clip": true},
         "encoding": {"text": {"field": "label"}}},
        {"data": {"name": "patterns"},
         "transform": [{"filter": "datum.panel == 'c' && datum.trace == 'T1'"}, {"calculate": "184*(datum.dB+40)/60", "as": "r"}, {"calculate": "datum.r*sin(datum.deg*PI/180)", "as": "px"}, {"calculate": "datum.r*cos(datum.deg*PI/180)", "as": "py"}],
         "mark": {"type": "line", "color": "#ec1818"},
         "encoding": {"order": {"value": null}}},
        {"data": {"name": "patterns"},
         "transform": [{"filter": "datum.panel == 'c' && datum.trace == 'T2'"}, {"calculate": "184*(datum.dB+40)/60", "as": "r"}, {"calculate": "datum.r*sin(datum.deg*PI/180)", "as": "px"}, {"calculate": "datum.r*cos(datum.deg*PI/180)", "as": "py"}],
         "mark": {"type": "line", "color": "#7a3c68"},
         "encoding": {"order": {"value": null}}}
      ]
    },
    {
      "width": 460, "height": 433,
      "encoding": {
        "x": {"field": "px", "type": "quantitative", "scale": {"domain": [-246, 214], "nice": false, "zero": false}, "axis": null},
        "y": {"field": "py", "type": "quantitative", "scale": {"domain": [-217.3, 215.7], "nice": false, "zero": false}, "axis": null}
      },
      "layer": [
        {"data": {"values": [{"level": -28, "edge": "grid"}, {"level": -16, "edge": "grid"}, {"level": -4, "edge": "grid"}, {"level": 8, "edge": "grid"}, {"level": 20, "edge": "rim"}]},
         "transform": [{"calculate": "0", "as": "px"}, {"calculate": "0", "as": "py"}, {"calculate": "datum.level + 40", "as": "span"}],
         "mark": {"type": "point", "shape": "circle", "filled": false},
         "encoding": {
           "size": {"field": "span", "type": "quantitative", "scale": {"type": "pow", "exponent": 2, "domain": [0, 60], "range": [0, 133956]}, "legend": null},
           "stroke": {"field": "edge", "type": "nominal", "scale": {"domain": ["grid", "rim"], "range": ["#cdcdcd", "#000000"]}, "legend": null},
           "strokeWidth": {"field": "edge", "type": "nominal", "scale": {"domain": ["grid", "rim"], "range": [1, 1.6]}, "legend": null},
           "opacity": {"value": 1}}},
        {"data": {"name": "spokes"},
         "transform": [{"calculate": "0", "as": "px"}, {"calculate": "0", "as": "py"}, {"calculate": "183*sin(datum.deg*PI/180)", "as": "px2"}, {"calculate": "183*cos(datum.deg*PI/180)", "as": "py2"}],
         "mark": {"type": "rule", "stroke": "#cdcdcd", "strokeWidth": 1},
         "encoding": {"x2": {"field": "px2"}, "y2": {"field": "py2"}}},
        {"data": {"name": "ticks"},
         "transform": [{"calculate": "183*sin(datum.deg*PI/180)", "as": "px"}, {"calculate": "183*cos(datum.deg*PI/180)", "as": "py"}, {"calculate": "178*sin(datum.deg*PI/180)", "as": "px2"}, {"calculate": "178*cos(datum.deg*PI/180)", "as": "py2"}],
         "mark": {"type": "rule", "stroke": "#000000", "strokeWidth": 1.2},
         "encoding": {"x2": {"field": "px2"}, "y2": {"field": "py2"}}},
        {"data": {"values": [{"level": 8, "label": "8.00"}, {"level": -4, "label": "-4.00"}, {"level": -16, "label": "-16.00"}, {"level": -28, "label": "-28.00"}]},
         "transform": [{"calculate": "0.5", "as": "px"}, {"calculate": "183*(datum.level+40)/60 + 3", "as": "py"}],
         "mark": {"type": "text", "align": "left", "baseline": "middle"},
         "encoding": {"text": {"field": "label"}}},
        {"data": {"name": "angleLabels"},
         "transform": [
           {"calculate": "sin(datum.deg*PI/180)", "as": "s"}, {"calculate": "cos(datum.deg*PI/180)", "as": "c"},
           {"calculate": "length(datum.label)*10.81 - (indexof(datum.label,'-') >= 0 ? 4.67 : 0)", "as": "w"},
           {"calculate": "192.5*datum.s + (datum.s > 0.01 ? 1 : datum.s < -0.01 ? -1 : 0)*datum.w/2", "as": "px"},
           {"calculate": "192.5*datum.c + (datum.c > 0.01 ? 1 : datum.c < -0.01 ? -1 : 0)*6.5 - 3.5", "as": "py"}],
         "mark": {"type": "text", "align": "center", "baseline": "middle", "clip": true},
         "encoding": {"text": {"field": "label"}}},
        {"data": {"name": "patterns"},
         "transform": [{"filter": "datum.panel == 'd' && datum.trace == 'T1'"}, {"calculate": "183*(datum.dB+40)/60", "as": "r"}, {"calculate": "datum.r*sin(datum.deg*PI/180)", "as": "px"}, {"calculate": "datum.r*cos(datum.deg*PI/180)", "as": "py"}],
         "mark": {"type": "line", "color": "#ec1818"},
         "encoding": {"order": {"value": null}}},
        {"data": {"name": "patterns"},
         "transform": [{"filter": "datum.panel == 'd' && datum.trace == 'T2'"}, {"calculate": "183*(datum.dB+40)/60", "as": "r"}, {"calculate": "datum.r*sin(datum.deg*PI/180)", "as": "px"}, {"calculate": "datum.r*cos(datum.deg*PI/180)", "as": "py"}],
         "mark": {"type": "line", "color": "#7a3c68"},
         "encoding": {"order": {"value": null}}}
      ]
    }
  ],
  "columns": 2,
  "align": "each",
  "spacing": {"row": 80, "column": 0},
  "bounds": "flush"
}
